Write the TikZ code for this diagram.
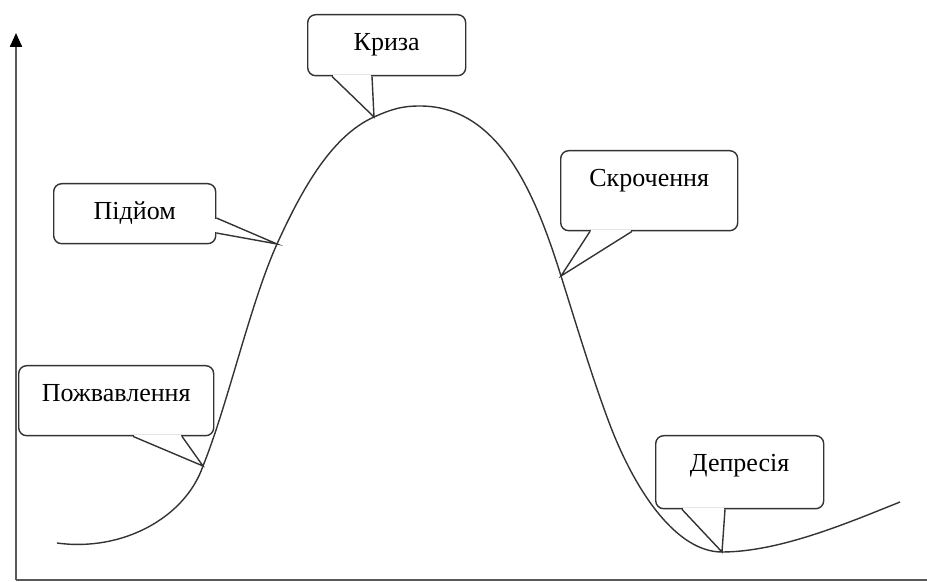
\documentclass[tikz,border=0pt]{standalone}
\usepackage{fontspec}
\setmainfont{Liberation Serif}
\usetikzlibrary{arrows.meta}

\begin{document}
\begin{tikzpicture}[x=0.5pt,y=-0.5pt]

% one unit = one pixel of the reference
\def\rc{4pt}
% style definitions
\tikzstyle{line} = [draw=black!80, line width=0.7pt];
\tikzstyle{axis} = [draw=black!65, line width=1.1pt];
\tikzstyle{callbox} = [
	draw=black!80, line width=0.7pt, fill=white, rounded corners=\rc,
	inner sep=0pt, text height=18pt, anchor=north west,
	font=\fontsize{13}{15}\selectfont ];
\tikzstyle{gap} = [draw=white, line width=1.6pt, shorten <=0.6pt, shorten >=0.6pt];

\useasboundingbox (0,0) rectangle (927,582);

% points on the curve
\coordinate (start) at (57,543);
\coordinate (pozh-tip) at (203,466);
\coordinate (pidj-tip) at (277,244);
\coordinate (kryz-tip) at (374,117);
\coordinate (top) at (420,106);
\coordinate (skr-tip) at (561,276);
\coordinate (down) at (610,425);
\coordinate (depr-tip) at (722,552);
\coordinate (end) at (900,502);

\draw[line] (start) .. controls (122,552) and (185,518) .. (pozh-tip)
	.. controls (228,404) and (250,304) .. (pidj-tip)
	.. controls (299,196) and (329,137) .. (kryz-tip)
	.. controls (392,109) and (402,106) .. (top)
	.. controls (500,106) and (536,196) .. (skr-tip)
	.. controls (577,327) and (593,380) .. (down)
	.. controls (636,493) and (677,552) .. (depr-tip)
	.. controls (780,552) and (850,522) .. (end);

% axes
\coordinate (o) at (16,580);
\coordinate (ytop) at (16,33);
\coordinate (xend) at (927,580);
\draw[axis,-{Triangle[width=6pt,length=7pt,color=black]}] (o) -- (ytop);
\draw[axis] (o) -- (xend);

% callouts
\node[callbox,minimum width=79pt,text depth=12.5pt] (kryza) at (307,14) {Криза};
\node[callbox,minimum width=81pt,text depth=12pt] (pidjom) at (53,183) {Підйом};
\node[callbox,minimum width=97.5pt,text depth=17pt] (pozh) at (18,365) {Пожвавлення};
\node[callbox,minimum width=88.5pt,text depth=22pt] (skr) at (560,150) {Скрочення};
\node[callbox,minimum width=84pt,text depth=18.5pt] (depr) at (655,435) {Депресія};

\draw[gap] ([xshift=12.5pt]kryza.south west) -- ([xshift=32.5pt]kryza.south west);
\draw[line] ([xshift=12.5pt]kryza.south west) -- (kryz-tip) -- ([xshift=32.5pt]kryza.south west);

\draw[gap] ([yshift=-17.5pt]pidjom.north east) -- ([yshift=-25pt]pidjom.north east);
\draw[line] ([yshift=-17.5pt]pidjom.north east) -- (pidj-tip) -- ([yshift=-25pt]pidjom.north east);

\draw[gap] ([xshift=57.5pt]pozh.south west) -- ([xshift=82pt]pozh.south west);
\draw[line] ([xshift=57.5pt]pozh.south west) -- (pozh-tip) -- ([xshift=82pt]pozh.south west);

\draw[gap] ([xshift=15pt]skr.south west) -- ([xshift=36pt]skr.south west);
\draw[line] ([xshift=15pt]skr.south west) -- (skr-tip) -- ([xshift=36pt]skr.south west);

\draw[gap] ([xshift=13.5pt]depr.south west) -- ([xshift=35pt]depr.south west);
\draw[line] ([xshift=13.5pt]depr.south west) -- (depr-tip) -- ([xshift=35pt]depr.south west);

\end{tikzpicture}
\end{document}
